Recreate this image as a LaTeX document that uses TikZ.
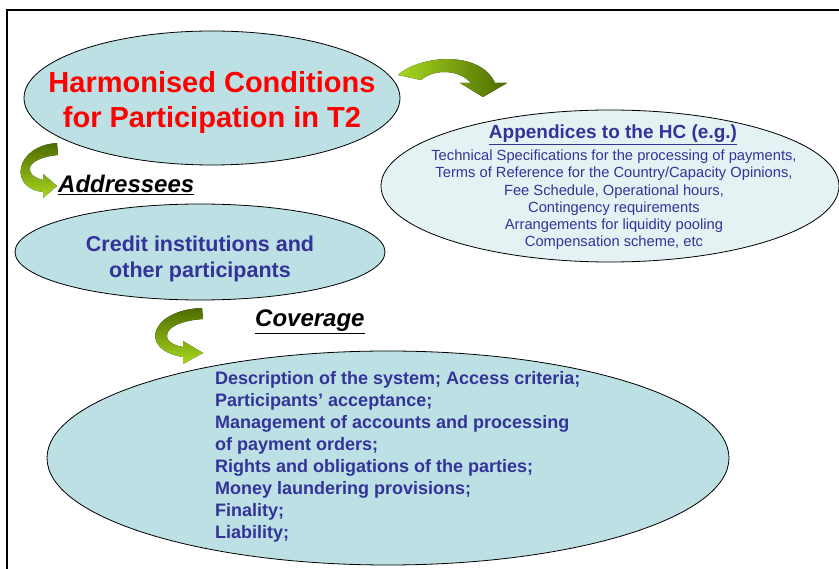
\documentclass[tikz,border=0pt]{standalone}
\usepackage{fontspec}
\setmainfont{Liberation Sans}
\usetikzlibrary{shapes.geometric}
\definecolor{ellfill}{HTML}{BCE0E3}
\definecolor{ellpale}{HTML}{E4F2F3}
\definecolor{txtblue}{HTML}{333399}
\definecolor{grlight}{HTML}{A8D820}
\definecolor{grdark}{HTML}{4E6B00}
\begin{document}
\begin{tikzpicture}[x=1pt,y=-1pt,
  oval/.style={ellipse, draw=black, line width=0.8pt, inner sep=0pt},
  garrowh/.style={left color=grlight, right color=grdark, draw=none},
  garrowv/.style={top color=grdark, bottom color=grlight, draw=none},
  headtxt/.style={font=\fontsize{24}{27}\selectfont\bfseries\itshape, text=black, inner sep=0pt}]
\useasboundingbox (0,0) rectangle (839,569);
\fill[white] (0,0) rectangle (839,569);
\draw[line width=2pt] (7,569) -- (7,10) -- (839,10);

% ellipses
\node[oval, fill=ellfill, minimum width=376pt, minimum height=134pt] (title) at (212,98) {};
\node[oval, fill=ellpale, minimum width=458pt, minimum height=152pt] (app) at (610,186) {};
\node[oval, fill=ellfill, minimum width=370pt, minimum height=96pt] (credit) at (200,252) {};
\node[oval, fill=ellfill, minimum width=682pt, minimum height=214pt] (cov) at (388,458) {};

% curved arrows
\fill[garrowh] (398,75) .. controls (420,55) and (480,50) .. (495,83) -- (507,83) -- (483,97) -- (460,83) -- (471,83)
  .. controls (460,70) and (435,68) .. (421,80) -- cycle;
\fill[garrowv] (57,143) .. controls (15,146) and (8,188) .. (43,192) -- (43,198) -- (57,186) -- (43,174) -- (43,180)
  .. controls (22,175) and (25,158) .. (58,155) -- cycle;
\fill[garrowv] (202,308) .. controls (150,310) and (138,350) .. (183,357) -- (183,364) -- (203,353) -- (183,341) -- (183,347)
  .. controls (158,343) and (160,322) .. (203,319) -- cycle;

% texts
\node[align=center, text=red, inner sep=0pt, font=\fontsize{29}{35}\selectfont\bfseries] (titletxt) at (212,103)
  {Harmonised Conditions\\for Participation in T2};
\node[text=txtblue, inner sep=0pt, font=\fontsize{19}{22}\selectfont\bfseries] (apphead) at (613,135)
  {\underline{Appendices to the HC (e.g.)}};
\node[align=center, text=txtblue, inner sep=0pt, font=\fontsize{14.7}{17.2}\selectfont] (apptxt) at (614,200)
  {Technical Specifications for the processing of payments,\\
   Terms of Reference for the Country/Capacity Opinions,\\
   Fee Schedule, Operational hours,\\
   Contingency requirements\\
   Arrangements for liquidity pooling\\
   Compensation scheme, etc};
\node[headtxt, anchor=west] (addr) at (58,185) {\underline{Addressees}};
\node[align=center, text=txtblue, inner sep=0pt, font=\fontsize{21.5}{26}\selectfont\bfseries] (credittxt) at (200,259)
  {Credit institutions and\\other participants};
\node[headtxt, anchor=west] (covhead) at (255,322) {\underline{Coverage}};
\node[align=left, text=txtblue, inner sep=0pt, anchor=west, font=\fontsize{18}{22}\selectfont\bfseries] (covtxt) at (215,457)
  {Description of the system; Access criteria;\\
   Participants’ acceptance;\\
   Management of accounts and processing\\
   of payment orders;\\
   Rights and obligations of the parties;\\
   Money laundering provisions;\\
   Finality;\\
   Liability;};
\end{tikzpicture}
\end{document}
